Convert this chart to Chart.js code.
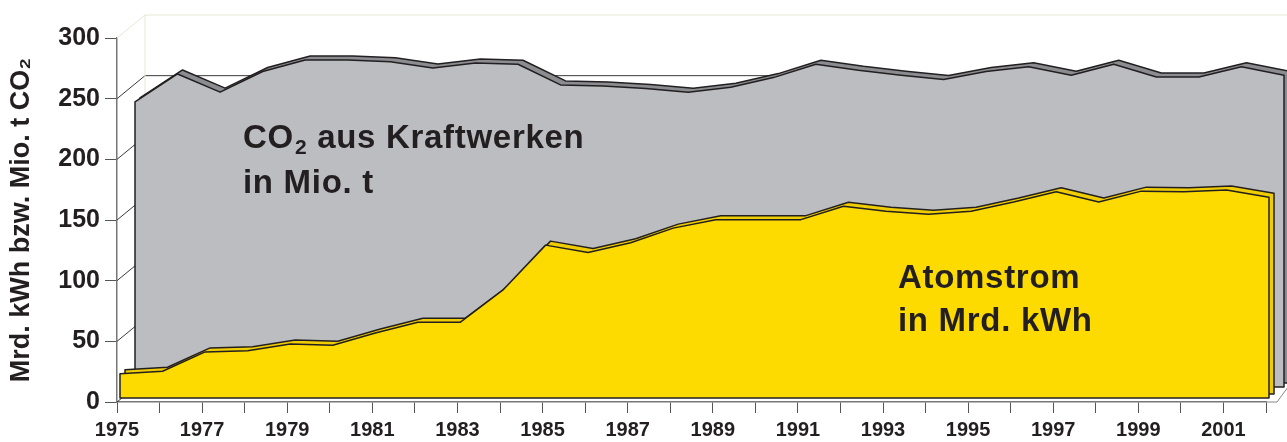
<!DOCTYPE html>
<html>
<head>
<meta charset="utf-8">
<script src="https://cdn.jsdelivr.net/npm/chart.js@4.4.1/dist/chart.umd.min.js"></script>
<style>
  html, body { margin: 0; padding: 0; background: #fff; }
</style>
</head>
<body>
<canvas id="chart" width="1287" height="442"></canvas>
<script>
// Daten
const years = [1975, 1976, 1977, 1978, 1979, 1980, 1981, 1982, 1983, 1984, 1985, 1986, 1987, 1988,
               1989, 1990, 1991, 1992, 1993, 1994, 1995, 1996, 1997, 1998, 1999, 2000, 2001, 2002];
const atomstrom = [20, 22, 38, 39, 44.5, 43.5, 53.5, 62.5, 62.5, 89, 126, 120, 128, 140,
                   147, 147, 147, 158, 154, 151.5, 154, 161.5, 170, 161.5, 170.5, 170, 171.5, 165.5];
const co2 = [235, 258, 243, 260, 269.5, 269.5, 268, 263, 267, 266, 249, 248, 246, 243,
             247, 255, 266, 261, 257, 253.5, 260, 264, 257, 266, 255.5, 255.5, 264, 257];
const yTicks = [0, 50, 100, 150, 200, 250, 300];

const ink = '#231f20';
const font = '"Liberation Sans", Arial, Helvetica, sans-serif';

// jede Reihe wird in die Tiefe verschoben (Pseudo-3D), Fläche + Umriss aus den Punkten der Skalen
const depthPlugin = {
  id: 'depth',
  afterDatasetDraw(chart, args) {
    const ds = chart.data.datasets[args.index];
    const ctx = chart.ctx;
    const pts = args.meta.data;
    const base = chart.scales.y.getPixelForValue(0);
    ctx.save();
    ctx.translate(ds.dx, ds.dy);
    ctx.beginPath();
    ctx.moveTo(pts[0].x, base);
    pts.forEach(p => ctx.lineTo(p.x, p.y));
    ctx.lineTo(pts[pts.length - 1].x, base);
    ctx.closePath();
    ctx.fillStyle = ds.areaColor;
    ctx.fill();
    ctx.lineWidth = 1.5;
    ctx.lineJoin = 'round';
    ctx.strokeStyle = ink;
    ctx.stroke();
    ctx.restore();
  }
};

// Rückwand mit Hilfslinien
const wallPlugin = {
  id: 'wall',
  beforeDatasetsDraw(chart) {
    const { ctx, chartArea: a, scales: { y } } = chart;
    const dx = 28, dy = -23;
    ctx.save();
    ctx.lineWidth = 1;
    yTicks.forEach(v => {
      const py = y.getPixelForValue(v);
      ctx.strokeStyle = v === 300 ? '#e3e9d4' : '#3a3a3a';
      ctx.beginPath();
      ctx.moveTo(a.left, py);
      ctx.lineTo(a.left + dx, py + dy);
      ctx.lineTo(chart.width, py + dy);
      ctx.stroke();
    });
    ctx.strokeStyle = '#e3e9d4';
    ctx.beginPath();
    ctx.moveTo(a.left + dx, y.getPixelForValue(300) + dy);
    ctx.lineTo(a.left + dx, y.getPixelForValue(0) + dy);
    ctx.stroke();
    ctx.strokeStyle = '#888';
    ctx.beginPath();
    ctx.moveTo(a.right, a.bottom);
    ctx.lineTo(a.right + 11, a.bottom);
    ctx.lineTo(a.right + dx, a.bottom + dy);
    ctx.stroke();
    ctx.restore();
  }
};

// Beschriftungen in den Flächen
const labelPlugin = {
  id: 'labels',
  afterDatasetsDraw(chart) {
    const ctx = chart.ctx;
    ctx.save();
    ctx.fillStyle = ink;
    ctx.textBaseline = 'alphabetic';
    ctx.letterSpacing = '0.7px';
    ctx.font = 'bold 33px ' + font;
    let x = 243;
    ctx.fillText('CO', x, 148);
    x += ctx.measureText('CO').width + 1;
    ctx.font = 'bold 21px ' + font;
    ctx.fillText('2', x, 154);
    x += ctx.measureText('2').width;
    ctx.font = 'bold 33px ' + font;
    ctx.fillText(' aus Kraftwerken', x, 148);
    ctx.fillText('in Mio. t', 243, 193);
    ctx.fillText('Atomstrom', 898, 288);
    ctx.fillText('in Mrd. kWh', 898, 331);
    ctx.restore();
  }
};

const hidden = { borderWidth: 0, pointRadius: 0, fill: false, showLine: false, tension: 0 };

const ctx = document.getElementById('chart').getContext('2d');
new Chart(ctx, {
  type: 'line',
  data: {
    labels: years,
    datasets: [
      { label: 'Atomstrom', data: atomstrom, dx: 3, dy: -4, areaColor: '#fddb00', ...hidden },
      { label: 'Atomstrom (Oberseite)', data: atomstrom, dx: 8, dy: -8, areaColor: '#f0cd00', ...hidden },
      { label: 'CO2', data: co2, dx: 18, dy: -15, areaColor: '#bcbdc1', ...hidden },
      { label: 'CO2 (Oberseite)', data: co2, dx: 23, dy: -19, areaColor: '#8b8c90', ...hidden }
    ]
  },
  options: {
    responsive: false,
    animation: false,
    layout: { padding: { top: 38, right: 21, left: 0, bottom: 0 } },
    plugins: {
      legend: { display: false },
      tooltip: { enabled: false }
    },
    scales: {
      x: {
        type: 'category',
        offset: false,
        afterFit: s => { s.height = 40; },
        grid: { drawOnChartArea: false, drawTicks: true, tickLength: 11, color: '#555', lineWidth: 1 },
        border: { display: true, color: '#777', width: 1.5 },
        ticks: {
          autoSkip: false, maxRotation: 0, padding: 5, color: ink,
          font: { family: font, size: 20, weight: 'bold' },
          callback: (v, i) => (years[i] % 2 ? String(years[i]) : '')
        }
      },
      y: {
        min: 0, max: 300,
        afterFit: s => { s.width = 117; },
        afterBuildTicks: s => { s.ticks = yTicks.map(v => ({ value: v })); },
        grid: { drawOnChartArea: false, drawTicks: true, tickLength: 12, color: '#555', lineWidth: 1 },
        border: { display: true, color: '#777', width: 1.5 },
        ticks: { padding: 5, color: ink, font: { family: font, size: 25, weight: 'bold' } },
        title: {
          display: true,
          text: 'Mrd. kWh bzw. Mio. t CO₂',
          color: ink,
          padding: { top: 5, bottom: 0 },
          font: { family: font, size: 27, weight: 'bold' }
        }
      }
    }
  },
  plugins: [wallPlugin, depthPlugin, labelPlugin]
});
</script>
</body>
</html>
